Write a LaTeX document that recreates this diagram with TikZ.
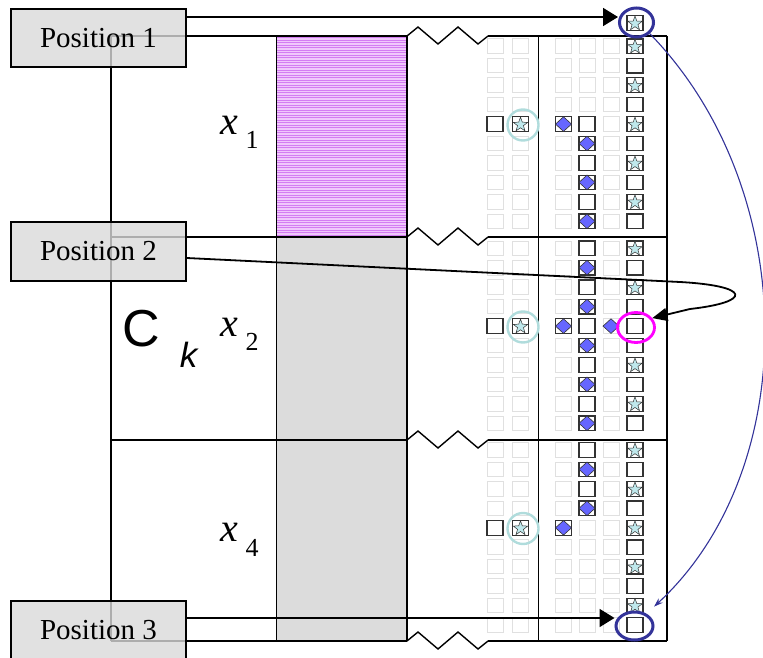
\documentclass[tikz,border=0pt]{standalone}
\usepackage{fontspec}
\setmainfont{Liberation Serif}
\newfontfamily\arialf{Liberation Sans}
\usetikzlibrary{arrows.meta,shapes.geometric}
\definecolor{boxgray}{HTML}{D9D9D9}
\definecolor{colgray}{HTML}{DCDCDC}
\definecolor{hatchbg}{HTML}{F0C8FC}
\definecolor{hatchln}{HTML}{D47CF2}
\definecolor{starc}{HTML}{BFE8EC}
\definecolor{diac}{HTML}{6666FF}
\definecolor{ringblue}{HTML}{333399}
\definecolor{ringcyan}{HTML}{B0DCDC}
\definecolor{ringmag}{HTML}{FF00FF}
\definecolor{ghostc}{HTML}{E0E0E0}
\definecolor{cellc}{HTML}{333333}
\newcommand\ccg[2]{\draw[ghostcell] (#1-8,#2-7.3) rectangle (#1+8,#2+7.3);}
\newcommand\cce[2]{\draw[darkcell] (#1-8,#2-7.3) rectangle (#1+8,#2+7.3);}
\newcommand\ccs[2]{\draw[darkcell] (#1-8,#2-7.3) rectangle (#1+8,#2+7.3);
  \draw[starcell] plot[samples at={0,...,9}] ({#1+ifthenelse(mod(\x,2)==0,7.6,3.1)*cos(90+36*\x)},{#2+0.6-ifthenelse(mod(\x,2)==0,7.6,3.1)*sin(90+36*\x)}) -- cycle;}
\newcommand\ccd[2]{\draw[darkcell] (#1-8,#2-7.3) rectangle (#1+8,#2+7.3);
  \draw[diacell] (#1-8,#2) -- (#1,#2-7.3) -- (#1+8,#2) -- (#1,#2+7.3) -- cycle;}
\newcommand\ccq[2]{\draw[ghostcell] (#1-8,#2-7.3) rectangle (#1+8,#2+7.3);
  \draw[diacell] (#1-8,#2) -- (#1,#2-7.3) -- (#1+8,#2) -- (#1,#2+7.3) -- cycle;}
\newcommand\cellrow[7]{\csname cc#2\endcsname{495}{#1}\csname cc#3\endcsname{520.5}{#1}\csname cc#4\endcsname{563.5}{#1}\csname cc#5\endcsname{587}{#1}\csname cc#6\endcsname{611}{#1}\csname cc#7\endcsname{635}{#1}}
\newcommand\zz[1]{\draw[mainln] (407,#1) -- (418,#1-9) -- (438,#1+8) -- (458,#1-9) -- (478,#1+8) -- (488,#1);}
\begin{document}
\begin{tikzpicture}[x=1pt,y=-1pt,
  mainln/.style={line width=1.4pt,black},
  ghostcell/.style={draw=ghostc,line width=1pt},
  darkcell/.style={draw=cellc,fill=white,line width=1.2pt},
  starcell/.style={draw=cellc,fill=starc,line width=0.5pt},
  diacell/.style={draw=cellc,fill=diac,line width=0.6pt},
  posbox/.style={draw=black,line width=1.4pt,fill=boxgray,fill opacity=0.8,text opacity=1,
    minimum width=175pt,minimum height=58pt,inner sep=0pt,font=\fontsize{29}{30}\selectfont},
  ring/.style={ellipse,draw,inner sep=0pt},
  bigarr/.style={line width=1.8pt,-{Triangle[length=15pt,width=18pt]}},
  loparr/.style={line width=1.8pt,-{Triangle[length=15pt,width=13pt]}},
  bluearr/.style={draw=ringblue,line width=1.1pt,-{Stealth[length=9pt,width=6pt]}}]
\useasboundingbox (0,0) rectangle (763,658);
% shaded column
\fill[hatchbg] (277,36) rectangle (407,237);
\foreach \yy in {37.5,40,...,236} \draw[hatchln,line width=0.6pt] (277,\yy) -- (407,\yy);
\fill[colgray] (277,237) rectangle (407,641);
% left frame
\draw[mainln] (111,36) -- (111,641);
\foreach \yy in {36,237,440,641} \draw[mainln] (111,\yy) -- (407,\yy);
\draw[mainln] (276.5,36) -- (276.5,641);
\draw[mainln] (407,36) -- (407,641);
% zigzags
\zz{36}\zz{237}\zz{440}\zz{641}
% right frame
\foreach \yy in {36,237,440,641} \draw[mainln] (488,\yy) -- (667,\yy);
\draw[mainln] (538.5,36) -- (538.5,641);
\draw[mainln] (667,36) -- (667,641);
% cells group 1
\ccs{635}{23}
\cellrow{46.3}{g}{g}{g}{g}{g}{s}
\cellrow{65.7}{g}{g}{g}{g}{g}{e}
\cellrow{85.2}{g}{g}{g}{g}{g}{s}
\cellrow{104.6}{g}{g}{g}{g}{g}{e}
\cellrow{124.1}{e}{s}{d}{e}{g}{s}
\cellrow{143.5}{g}{g}{g}{d}{g}{e}
\cellrow{162.9}{g}{g}{g}{e}{g}{s}
\cellrow{182.4}{g}{g}{g}{d}{g}{e}
\cellrow{201.8}{g}{g}{g}{e}{g}{s}
\cellrow{221.3}{g}{g}{g}{d}{g}{e}
% group 2
\cellrow{248.3}{g}{g}{g}{e}{g}{s}
\cellrow{267.7}{g}{g}{g}{d}{g}{e}
\cellrow{287.2}{g}{g}{g}{e}{g}{s}
\cellrow{306.6}{g}{g}{g}{d}{g}{e}
\cellrow{326.1}{e}{s}{d}{e}{q}{e}
\cellrow{345.5}{g}{g}{g}{d}{g}{e}
\cellrow{364.9}{g}{g}{g}{e}{g}{s}
\cellrow{384.4}{g}{g}{g}{d}{g}{e}
\cellrow{403.8}{g}{g}{g}{e}{g}{s}
\cellrow{423.3}{g}{g}{g}{d}{g}{e}
% group 3
\cellrow{450.0}{g}{g}{g}{e}{g}{s}
\cellrow{469.4}{g}{g}{g}{d}{g}{e}
\cellrow{488.9}{g}{g}{g}{e}{g}{s}
\cellrow{508.3}{g}{g}{g}{d}{g}{e}
\cellrow{527.8}{e}{s}{d}{g}{g}{s}
\cellrow{547.2}{g}{g}{g}{g}{g}{e}
\cellrow{566.6}{g}{g}{g}{g}{g}{s}
\cellrow{586.1}{g}{g}{g}{g}{g}{e}
\cellrow{605.5}{g}{g}{g}{g}{g}{s}
\cellrow{625.0}{g}{g}{g}{g}{g}{e}
% rings
\node[ring,draw=ringcyan,line width=2.4pt,minimum width=31pt,minimum height=31pt] (cy1) at (523,125) {};
\node[ring,draw=ringcyan,line width=2.4pt,minimum width=31pt,minimum height=31pt] (cy2) at (523,327) {};
\node[ring,draw=ringcyan,line width=2.4pt,minimum width=31pt,minimum height=31pt] (cy3) at (523,528.5) {};
\node[ring,draw=ringmag,line width=2.8pt,minimum width=37pt,minimum height=30pt] (mc) at (636,327.5) {};
\node[ring,draw=ringblue,line width=3pt,minimum width=34pt,minimum height=29pt] (tc) at (636.5,22.5) {};
\node[ring,draw=ringblue,line width=3pt,minimum width=37pt,minimum height=28pt] (bc) at (634.5,626) {};
% labels
\node[inner sep=0pt,font=\fontsize{40}{40}\selectfont\itshape] (x1) at (229,125) {x};
\node[inner sep=0pt,font=\fontsize{26}{26}\selectfont] (x1s) at (252,140) {1};
\node[inner sep=0pt,font=\fontsize{40}{40}\selectfont\itshape] (x2) at (229,327) {x};
\node[inner sep=0pt,font=\fontsize{26}{26}\selectfont] (x2s) at (252,342) {2};
\node[inner sep=0pt,font=\fontsize{40}{40}\selectfont\itshape] (x4) at (229,532) {x};
\node[inner sep=0pt,font=\fontsize{26}{26}\selectfont] (x4s) at (252,548) {4};
\node[inner sep=0pt,font=\arialf\fontsize{52}{52}\selectfont] (ck) at (141.5,328.5) {C};
\node[inner sep=0pt,font=\arialf\fontsize{35}{35}\selectfont\itshape] (cks) at (188.5,354.5) {k};
% position boxes
\node[posbox] (p1) at (98.5,38) {Position 1};
\node[posbox,minimum height=59pt] (p2) at (98.5,251.5) {Position 2};
\node[posbox] (p3) at (98.5,630) {Position 3};
% arrows
\draw[bigarr] ([yshift=21pt]p1.east) -- ([yshift=21pt]p1.east -| tc.west);
\draw[bigarr] ([yshift=12pt]p3.east) -- ([yshift=12pt]p3.east -| bc.west);
\draw[loparr] ([yshift=-6.5pt]p2.east) -- (680,282) .. controls (752,286) and (752,302) .. (690,309) -- (mc.30);
\draw[bluearr] (tc.-40) .. controls (802,190) and (802,470) .. ([shift={(6pt,8pt)}]bc.40);
\end{tikzpicture}
\end{document}
